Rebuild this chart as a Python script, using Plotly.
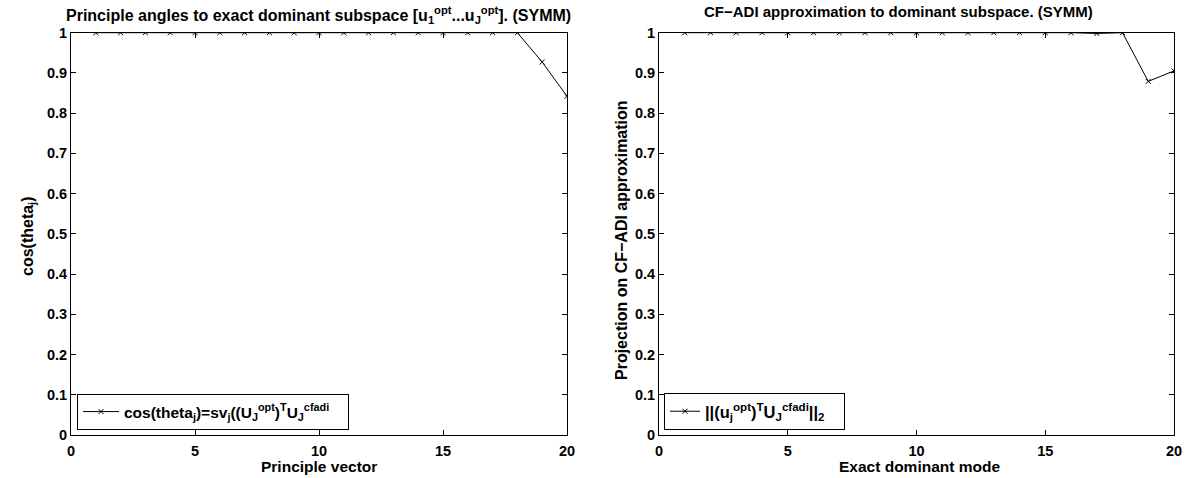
import plotly.graph_objects as go

modes = list(range(1, 21))
cos_theta = [1.0]*18 + [0.927, 0.842]
proj = [1.0]*16 + [0.998, 1.0, 0.879, 0.905]

x_ticks = [0, 5, 10, 15, 20]
y_ticks = [0, 0.1, 0.2, 0.3, 0.4, 0.5, 0.6, 0.7, 0.8, 0.9, 1]
y_ticktext = ["0", "0.1", "0.2", "0.3", "0.4", "0.5", "0.6", "0.7", "0.8", "0.9", "1"]

FONT = "Liberation Sans, Arial, sans-serif"

fig = go.Figure()
fig.add_trace(go.Scatter(
    x=modes, y=cos_theta, mode="lines+markers",
    line=dict(color="black", width=1),
    marker=dict(symbol="x-thin", size=5, line=dict(color="black", width=1), color="black"),
    name="cos(theta<sub>j</sub>)=sv<sub>j</sub>((U<sub>J</sub><sup>opt</sup>)<sup>T</sup>U<sub>J</sub><sup>cfadi</sup>\u00a0\u00a0\u00a0",
    xaxis="x", yaxis="y", legend="legend",
))
fig.add_trace(go.Scatter(
    x=modes, y=proj, mode="lines+markers",
    line=dict(color="black", width=1),
    marker=dict(symbol="x-thin", size=5, line=dict(color="black", width=1), color="black"),
    name="||(u<sub>j</sub><sup>opt</sup>)<sup>T</sup>U<sub>J</sub><sup>cfadi</sup>||<sub>2</sub>\u00a0\u00a0\u00a0",
    xaxis="x2", yaxis="y2", legend="legend2",
))

ydom = [1 - 435/478, 1 - 32.7/478]
tick_font = dict(family=FONT, size=14.5, color="black", weight="bold")
axis_common = dict(
    showgrid=False, zeroline=False, showline=True, linecolor="black", linewidth=1,
    mirror="ticks", ticks="inside", ticklen=5, tickcolor="black",
    tickfont=tick_font, automargin=False,
)

fig.update_layout(
    width=1186, height=478,
    margin=dict(l=0, r=0, t=0, b=0, autoexpand=False),
    paper_bgcolor="white", plot_bgcolor="white",
    font=dict(family=FONT, color="black"),
    xaxis=dict(domain=[71/1186, 567/1186], range=[0, 20], tickvals=x_ticks, anchor="y", ticklabelstandoff=3, **axis_common),
    yaxis=dict(domain=ydom, range=[0, 1], tickvals=y_ticks, ticktext=y_ticktext, anchor="x", **axis_common),
    xaxis2=dict(domain=[659/1186, 1174/1186], range=[0, 20], tickvals=x_ticks, anchor="y2", ticklabelstandoff=3, **axis_common),
    yaxis2=dict(domain=ydom, range=[0, 1], tickvals=y_ticks, ticktext=y_ticktext, anchor="x2", **axis_common),
    legend=dict(x=77/1186, y=1 - 430/478, xanchor="left", yanchor="bottom",
                bordercolor="black", borderwidth=1, bgcolor="white",
                font=dict(family=FONT, size=15.5, color="black", weight="bold"), itemwidth=36),
    legend2=dict(x=664/1186, y=1 - 430/478, xanchor="left", yanchor="bottom",
                 bordercolor="black", borderwidth=1, bgcolor="white",
                 font=dict(family=FONT, size=16.5, color="black", weight="bold"), itemwidth=30),
    showlegend=True,
)

def ann(text, x, y, size=15, angle=0):
    f = dict(family=FONT, size=size, color="black", weight="bold")
    fig.add_annotation(text=text, x=x/1186, y=1 - y/478, xref="paper", yref="paper",
                       xanchor="center", yanchor="middle", showarrow=False,
                       textangle=angle, font=f)

ann("Principle angles to exact dominant subspace [u<sub>1</sub><sup>opt</sup>...u<sub>J</sub><sup>opt</sup>]. (SYMM)", 318, 15, 16)
ann("CF\u2212ADI approximation to dominant subspace. (SYMM)", 898, 12, 15)
ann("Principle vector", 319, 466, 15.5)
ann("Exact dominant mode", 919, 466, 15.5)
ann("cos(theta<sub>j</sub>)", 28, 236, 16, angle=-90)
ann("Projection on CF\u2212ADI approximation", 621, 240, 16, angle=-90)

fig.write_html("out.html", config={"displayModeBar": False},
               post_script="document.body.style.margin='0';document.body.style.overflow='hidden';")
